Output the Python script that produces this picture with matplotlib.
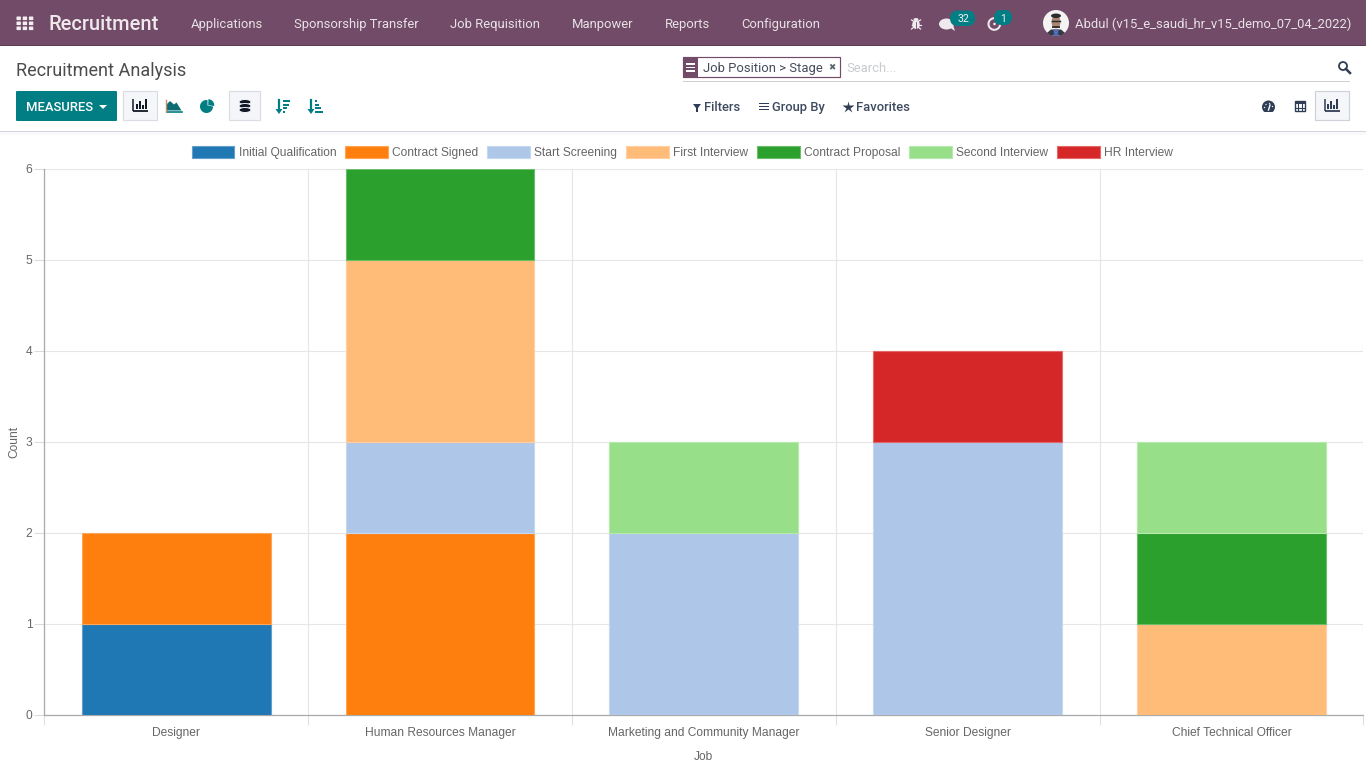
import numpy as np
import matplotlib
matplotlib.use("Agg")
import matplotlib.pyplot as plt
from matplotlib.patches import Rectangle, Circle, FancyBboxPatch, Polygon, Wedge, Ellipse, Patch

categories = ["Designer", "Human Resources Manager", "Marketing and Community Manager",
              "Senior Designer", "Chief Technical Officer"]
stages = ["Initial Qualification", "Contract Signed", "Start Screening", "First Interview",
          "Contract Proposal", "Second Interview", "HR Interview"]
initial_qualification = [1, 0, 0, 0, 0]
contract_signed = [1, 2, 0, 0, 0]
start_screening = [0, 1, 2, 3, 0]
first_interview = [0, 2, 0, 0, 1]
contract_proposal = [0, 1, 0, 0, 1]
second_interview = [0, 0, 1, 0, 1]
hr_interview = [0, 0, 0, 1, 0]
series = [initial_qualification, contract_signed, start_screening, first_interview,
          contract_proposal, second_interview, hr_interview]
colors = ["#1f77b4", "#ff7f0e", "#aec7e8", "#ffbb78", "#2ca02c", "#98df8a", "#d62728"]
nav_items = [("Applications", 191), ("Sponsorship Transfer", 294), ("Job Requisition", 450),
             ("Manpower", 571.5), ("Reports", 665), ("Configuration", 741.7)]

W, H = 1366, 768
PX = 0.72
PURPLE = "#714b67"
TEAL = "#017e84"
DARK = "#4c4c4c"
NAVY = "#2f3e56"
UI = "Roboto"
CH = "Liberation Sans"

fig = plt.figure(figsize=(W / 100, H / 100), dpi=100, facecolor="white")

# ---------- page chrome in pixel coordinates ----------
ui = fig.add_axes([0, 0, 1, 1], zorder=0)
ui.set_xlim(0, W)
ui.set_ylim(H, 0)
ui.axis("off")


def rect(x0, y0, x1, y1, fc, ec="none", lw=0, z=1):
    ui.add_patch(Rectangle((x0, y0), x1 - x0, y1 - y0, fc=fc, ec=ec, lw=lw, zorder=z))


def box(x0, y0, x1, y1, fc, ec):
    rect(x0 - 0.3, y0 - 0.3, x1 - 0.3, y1 - 0.3, fc, ec, 0.85)


def txt(x, y, s, px=13, c=DARK, w="normal", ha="left", fam=UI):
    ui.text(x, y - 1, s, fontsize=px * PX, color=c, fontweight=w, ha=ha, va="center_baseline",
            family=fam, zorder=5)


def bars_icon(cx, cy, c="#111827"):
    ui.plot([cx - 7.5, cx - 7.5], [cy - 6.5, cy + 5.8], color=c, lw=1.1, zorder=3, solid_capstyle="butt")
    ui.plot([cx - 7.5, cx + 7.5], [cy + 5.5, cy + 5.5], color=c, lw=1.3, zorder=3, solid_capstyle="butt")
    for dx, h in zip((-5, -2, 1, 4), (5, 8, 4.5, 10)):
        rect(cx + dx, cy + 3.8 - h, cx + dx + 2.2, cy + 3.8, c, z=3)


# nav bar
rect(0, 0, W, 45, PURPLE)
rect(0, 45, W, 46, "#5b3c53")
for i in range(3):
    for j in range(3):
        ui.add_patch(FancyBboxPatch((16.5 + i * 6.2, 16.5 + j * 5), 4.4, 3.6,
                                    boxstyle="round,pad=0,rounding_size=0.6", fc="#f3eef1", ec="none", zorder=3))
txt(49, 23.5, "Recruitment", 20.2, "#efe9ed", "medium")
for label, x in nav_items:
    txt(x, 24, label, 12.96, "#e8e2e6")

# bug
ui.add_patch(Ellipse((916, 24.5), 7.5, 9, fc="#f0eaee", zorder=3))
ui.add_patch(Ellipse((916, 19.5), 5, 3, fc="#f0eaee", zorder=3))
for a, b in ((21.5, 20), (24.5, 24.5), (27, 29)):
    ui.plot([918, 920.5], [a, b], color="#f0eaee", lw=0.9, zorder=3)
    ui.plot([914, 911.5], [a, b], color="#f0eaee", lw=0.9, zorder=3)
ui.plot([916, 916], [22, 29], color=PURPLE, lw=0.6, zorder=4)
# chat
ui.add_patch(Ellipse((946.5, 24), 15, 11, fc="#f0eaee", zorder=3))
ui.add_patch(Polygon([[949, 27], [955, 31], [953, 25]], fc="#f0eaee", zorder=3))
ui.add_patch(FancyBboxPatch((950, 10.5), 25, 15.5, boxstyle="round,pad=0,rounding_size=7.7", fc=TEAL, ec="none", zorder=4))
txt(963, 19, "32", 10.5, "#f2f2f2", ha="center")
# activity clock
ui.add_patch(Wedge((994.3, 24), 6.8, 0, 360, width=2, fc="#f0eaee", zorder=3))
ui.add_patch(Circle((994.5, 24), 1.3, fc="#f0eaee", zorder=3))
ui.add_patch(FancyBboxPatch((994, 10), 18, 15, boxstyle="round,pad=0,rounding_size=7.5", fc=TEAL, ec="none", zorder=4))
txt(1003, 18.5, "1", 10.5, "#f2f2f2", ha="center")
# avatar
ui.add_patch(Circle((1056, 23), 13, fc="#f4f2f2", zorder=3))
ui.add_patch(Polygon([[1047, 33], [1051, 29.5], [1061, 29.5], [1065, 33], [1061, 35.5], [1051, 35.5]], fc="#34384a", zorder=4))
ui.add_patch(Polygon([[1053.5, 29.5], [1058.5, 29.5], [1058, 36], [1054, 36]], fc="#4f6fb2", zorder=5))
ui.add_patch(Ellipse((1056, 22), 9, 12.5, fc="#a98672", zorder=4))
ui.add_patch(Ellipse((1056, 15.8), 10, 4.5, fc="#2b2a2c", zorder=5))
ui.plot([1052, 1060], [21, 21], color="#2b2a2c", lw=1, zorder=5)
ui.plot([1053, 1059], [26.5, 26.5], color="#3a3234", lw=1.4, zorder=5)
txt(1075, 24, "Abdul (v15_e_saudi_hr_v15_demo_07_04_2022)", 12.96, "#e8e2e6")

# control panel
txt(16, 70, "Recruitment Analysis", 17.95, DARK)
rect(0, 131, W, 132, "#d4d4de")
rect(0, 132, W, 135, "#f9f9fb")

ui.add_patch(FancyBboxPatch((16, 91), 101, 30, boxstyle="round,pad=0,rounding_size=1", fc=TEAL, ec="none", zorder=2))
txt(26, 107, "MEASURES", 13, "#ffffff", "medium")
ui.add_patch(Polygon([[99, 105], [107, 105], [103, 109]], fc="white", zorder=3))

box(123.5, 91.5, 157.5, 120.5, "#f5f6fa", "#dadce3")
bars_icon(140.5, 105.5)
# area icon
ui.add_patch(Polygon([[167, 110.5], [167, 104], [170, 101], [174, 104.5], [176.5, 102.5], [181.5, 110.5]], fc="#0b6d71", zorder=3))
ui.plot([166.5, 181.5], [111.5, 111.5], color=TEAL, lw=1.2, zorder=3)
ui.plot([166.2, 166.2], [100, 111.5], color="#c98a6a", lw=1, zorder=3)
# pie icon
ui.add_patch(Wedge((206.5, 106.5), 6.5, 0, 360, fc=TEAL, zorder=3))
ui.add_patch(Wedge((207.5, 105.5), 7.3, 270, 10, fc="white", zorder=4))
ui.add_patch(Wedge((208.2, 105.2), 6.0, 272, 8, fc=TEAL, zorder=5))

box(229.5, 91.5, 260.5, 120.5, "#f5f6fa", "#dadce3")
for y in (102, 106, 110):
    ui.add_patch(Ellipse((245, y), 12, 5, fc="#111827", ec="#f5f6fa", lw=0.7, zorder=3))


def sort_icon(x, widths, c):
    ui.plot([x, x], [100, 111], color=c, lw=1.6, zorder=3)
    ui.add_patch(Polygon([[x - 3.5, 109], [x + 3.5, 109], [x, 114]], fc=c, zorder=3))
    for k, wd in enumerate(widths):
        rect(x + 4, 100.2 + k * 3.6, x + 4 + wd, 102 + k * 3.6, c, z=3)


sort_icon(279, (7, 6, 4, 2), TEAL)
sort_icon(311, (2, 4, 6, 8), TEAL)

# search
rect(683, 57, 698, 78, PURPLE)
box(683.5, 57.5, 840.5, 77.5, "none", PURPLE)
for y in (64, 67.5, 71):
    rect(686, y - 0.8, 695, y + 0.8, "white", z=4)
txt(703, 68, "Job Position > Stage", 12.96, "#444b5a")
ui.text(832, 68, "\u2716", fontsize=6.2, color="#5d6470", ha="center", va="center", family="DejaVu Sans", zorder=5)
txt(846, 68, "Search...", 13, "#c9cbcf")
rect(683, 81, 1350, 82, "#cfd0d3")
ui.add_patch(Circle((1343, 66), 4, fc="none", ec=NAVY, lw=1.3, zorder=3))
ui.plot([1346, 1350], [69, 73], color=NAVY, lw=1.8, zorder=3)

# filter row
ui.add_patch(Polygon([[693, 104], [701, 104], [698, 108], [698, 112], [696, 112], [696, 108]], fc=NAVY, zorder=3))
txt(704, 107, "Filters", 13, "#3d4a5f", "medium")
for y in (103.5, 106.5, 109.5):
    rect(759, y - 0.7, 769, y + 0.7, NAVY, z=3)
txt(772, 107, "Group By", 13, "#3d4a5f", "medium")
ui.plot([848], [107], marker="*", ms=9, color=NAVY, mec="none", zorder=3)
txt(856, 107, "Favorites", 13, "#3d4a5f", "medium")

# view switch
ui.add_patch(Circle((1268.5, 107), 6.5, fc=NAVY, zorder=3))
rect(1262, 111.5, 1275, 114, "white", z=4)
for dx, dy in ((-4, 0), (-2.5, -3), (1, -4), (4, -1)):
    ui.add_patch(Circle((1268.5 + dx, 107.5 + dy), 0.7, fc="#e8ecf2", zorder=5))
ui.plot([1268.5, 1270], [110, 105], color="white", lw=1, zorder=5)
rect(1294.5, 101, 1305, 110.5, "none", NAVY, 1, z=3)
rect(1294.5, 101, 1305, 104, NAVY, z=3)
ui.plot([1294.5, 1305], [107.5, 107.5], color=NAVY, lw=0.8, zorder=3)
ui.plot([1298, 1298], [101.5, 110.5], color=NAVY, lw=0.8, zorder=3)
ui.plot([1302, 1302], [101.5, 110.5], color=NAVY, lw=0.8, zorder=3)
box(1315.5, 91.5, 1349.5, 120.5, "#f5f6fa", "#cfd1d8")
bars_icon(1332, 105.5, NAVY)

# ---------- chart ----------
L, R, T, B = 44.3, 1363.3, 168.9, 714.9
ax = fig.add_axes([L / W, 1 - B / H, (R - L) / W, (B - T) / H], zorder=2)
ax.patch.set_alpha(0)
x = np.arange(len(categories))
bottom = np.zeros(len(categories))
for name, vals, col in zip(stages, series, colors):
    vals = np.array(vals, dtype=float)
    mask = vals > 0
    rgba = matplotlib.colors.to_rgb(col)
    edge = tuple(c + (1 - c) * 0.3 for c in rgba)
    ax.bar(x[mask], vals[mask], width=0.715, bottom=bottom[mask], color=col, edgecolor=edge,
           linewidth=0.8, label=name, zorder=3)
    bottom += vals

ax.set_xlim(-0.5, len(categories) - 0.5)
ax.set_ylim(0, 6)
ax.set_yticks(range(7))
ax.set_xticks(np.arange(-0.5, len(categories)), labels=[""] * (len(categories) + 1))
ax.set_xticks(x, labels=categories, minor=True)
ax.grid(True, which="major", color="#e6e6e6", lw=0.8, zorder=0)
ax.set_axisbelow(True)
for s in ("top", "right"):
    ax.spines[s].set_visible(False)
for s in ("left", "bottom"):
    ax.spines[s].set_color("#a9a9a9")
    ax.spines[s].set_linewidth(0.9)
ax.tick_params(axis="x", which="major", length=7, width=0.8, color="#e0e0e0")
ax.tick_params(axis="x", which="minor", length=0, pad=8.6, labelsize=12 * PX, labelcolor="#666666")
ax.tick_params(axis="y", length=7, width=0.8, color="#dcdcdc", pad=1.5, labelsize=12 * PX, labelcolor="#666666")
for lab in ax.get_xticklabels(minor=True) + ax.get_yticklabels():
    lab.set_family(CH)
ax.set_xlabel("Job", fontsize=12 * PX, color="#666666", family=CH, labelpad=8.7)
ax.set_ylabel("Count", fontsize=12 * PX, color="#666666", family=CH, labelpad=4.2)

handles = [Patch(fc=c, ec=tuple(v + (1 - v) * 0.3 for v in matplotlib.colors.to_rgb(c)), lw=0.8) for c in colors]
leg = fig.legend(handles, stages, ncol=len(stages), loc="center", bbox_to_anchor=(682.5 / W, 1 - 152.5 / H),
                 frameon=False, prop={"family": CH, "size": 12 * PX}, labelcolor="#666666",
                 handlelength=3.55, handleheight=1.15, handletextpad=0.36, columnspacing=0.75, borderpad=0, borderaxespad=0)

fig.savefig("out.png", dpi=100)
